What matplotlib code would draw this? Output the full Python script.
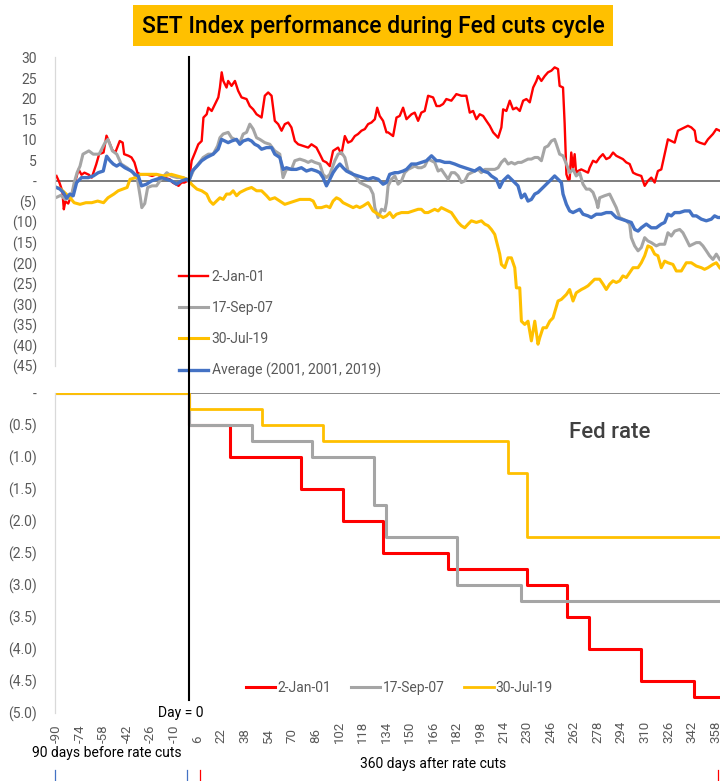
import matplotlib
matplotlib.use("Agg")
import matplotlib.pyplot as plt
from matplotlib.patches import Rectangle
from matplotlib.lines import Line2D
import matplotlib.transforms as mtransforms
import numpy as np

plt.rcParams['font.family'] = ['Roboto', 'DejaVu Sans']

# ---------------- text / labels ----------------
title = "SET Index performance during Fed cuts cycle"
series_labels = ["2-Jan-01", "17-Sep-07", "30-Jul-19"]
avg_label = "Average (2001, 2001, 2019)"
top_ytick_vals = list(range(-45, 31, 5))
top_ytick_labels = ["(45)", "(40)", "(35)", "(30)", "(25)", "(20)", "(15)", "(10)", "(5)",
                    "-", "5", "10", "15", "20", "25", "30"]
bot_ytick_vals = [-5.0, -4.5, -4.0, -3.5, -3.0, -2.5, -2.0, -1.5, -1.0, -0.5, 0.0]
bot_ytick_labels = ["(5.0)", "(4.5)", "(4.0)", "(3.5)", "(3.0)", "(2.5)", "(2.0)", "(1.5)",
                    "(1.0)", "(0.5)", "-"]
xtick_vals = list(range(-90, 361, 16))

# ---------------- SET index % change (day, value) ----------------
set_2001 = [(-90, 1.2), (-88, -0.4), (-86, -2.5), (-85, -6.9), (-84, -5.0), (-82, -5.5), (-80, -3.6),
            (-78, -1.2), (-75, 2.8), (-73, 1.5), (-71, 2.0), (-68, 1.5), (-66, 0.8), (-63, 4.0),
            (-61, 6.5), (-58, 6.9), (-56, 11.0), (-54, 9.3), (-52, 7.5), (-50, 6.9), (-47, 9.7),
            (-45, 9.3), (-44, 6.5), (-41, 6.1), (-39, 5.7), (-37, 4.5), (-35, 2.0), (-33, 1.6),
            (-29, 1.6), (-25, 1.2), (-22, 1.6), (-17, 0.8), (-13, 0.4), (-11, -0.4), (-7, -1.2),
            (-5, -0.4), (-3, -0.4), (-1, 0.0), (0, 0.0),
            (1.9, 4.9), (4.2, 6.9), (6.4, 8.9), (8.7, 9.7), (9.9, 15.4), (12.1, 16.2), (13.2, 17.8),
            (15.5, 17.0), (17.8, 18.7), (20.0, 20.3), (21.1, 22.7), (22.3, 26.4), (23.4, 24.3),
            (25.6, 22.7), (26.7, 24.3), (29.0, 23.1), (31.3, 24.3), (33.5, 21.9), (35.8, 20.3),
            (39.2, 19.9), (41.4, 18.2), (43.7, 17.4), (46.0, 16.2), (49.4, 15.4), (51.6, 20.7),
            (53.9, 21.5), (56.2, 20.7), (58.4, 14.6), (60.7, 13.8), (63.0, 12.2), (65.2, 13.8),
            (67.5, 14.2), (69.7, 13.0), (72.0, 9.7), (74.3, 8.9), (77.7, 8.5), (81.1, 8.1),
            (83.3, 8.9), (86.7, 8.1), (89.0, 6.5), (91.2, 4.9), (93.5, 4.5), (95.8, 3.6), (98.0, 7.3),
            (101.4, 8.1), (103.7, 6.5), (106.0, 10.9), (108.2, 9.3), (110.5, 9.7), (112.8, 10.9),
            (115.0, 11.4), (117.3, 12.2), (119.6, 12.6), (121.8, 13.8), (124.1, 14.2), (126.4, 15.0),
            (128.0, 17.8), (129.7, 15.8), (132.0, 14.6), (134.3, 11.8), (135.4, 11.8), (138.8, 10.9),
            (141.1, 15.4), (143.3, 15.8), (145.6, 17.8), (147.9, 15.0), (151.3, 16.2), (153.5, 16.6),
            (155.8, 14.6), (158.0, 16.6), (160.3, 17.0), (162.6, 20.7), (166.0, 20.3), (168.3, 18.2),
            (170.5, 18.2), (172.8, 18.7), (175.0, 19.9), (178.4, 19.5), (181.8, 21.1), (185.2, 20.7),
            (188.6, 20.7), (190.9, 16.6), (193.2, 17.0), (195.4, 15.0), (197.7, 16.2), (200.0, 15.8),
            (202.2, 14.6), (204.5, 13.4), (206.8, 11.8), (210.2, 10.5), (212.4, 13.0), (213.6, 17.4),
            (215.8, 17.0), (218.1, 19.5), (220.3, 17.4), (222.6, 17.8), (224.9, 17.0), (227.2, 19.5),
            (229.4, 19.9), (231.7, 19.1), (234.0, 22.7), (236.2, 24.3), (237.4, 25.5), (239.6, 24.3),
            (241.9, 25.5), (244.1, 26.4), (246.4, 26.8), (248.6, 27.6), (250.9, 27.2), (252.0, 23.1),
            (254.3, 22.7), (255.4, 14.0), (256.6, 1.6), (257.7, 0.4), (258.8, 0.4), (259.9, 6.9),
            (261.1, 3.2), (262.2, 6.5), (263.3, 1.6), (264.4, 2.4), (266.7, 2.8), (269.0, 2.4),
            (271.3, 2.0), (272.4, 3.2), (274.7, 4.9), (276.9, 4.5), (279.2, 5.7), (281.4, 6.5),
            (283.7, 5.3), (286.0, 5.7), (288.3, 6.9), (290.5, 6.1), (292.8, 5.7), (295.0, 5.3),
            (297.3, 4.5), (299.6, 4.1), (301.9, 2.0), (304.1, 1.6), (307.5, 1.2), (309.8, -1.2),
            (312.0, 0.0), (314.3, 0.8), (316.6, -0.4), (318.8, 2.4), (321.1, 2.8), (323.4, 6.5),
            (325.6, 10.1), (327.9, 9.7), (330.2, 9.3), (332.4, 12.2), (334.7, 12.6), (337.0, 13.0),
            (339.2, 13.4), (341.5, 13.0), (343.8, 12.2), (344.9, 9.7), (347.2, 9.3), (350.6, 8.9),
            (352.8, 10.1), (356.2, 11.4), (358.5, 12.6), (360.8, 12.2)]

set_2007 = [(-90, -4.0), (-87, -3.5), (-84, -4.5), (-80, -4.0), (-78, -0.5), (-76, 2.0), (-74, 3.6),
            (-72, 6.5), (-68, 7.3), (-65, 6.5), (-61, 6.5), (-57, 9.3), (-55, 10.1), (-52, 7.3),
            (-49, 6.5), (-46, 4.1), (-42, 3.2), (-38, 2.0), (-35, 0.4), (-33, -4.0), (-32, -6.5),
            (-30, -5.5), (-28, -1.6), (-25, -1.2), (-22, -1.2), (-19, 0.4), (-15, 2.0), (-12, 1.2),
            (-8, 0.8), (-4, 0.8), (0, 0.0),
            (3.4, 2.8), (6.4, 4.1), (9.7, 5.7), (13.2, 6.5), (16.5, 6.5), (19.5, 8.5), (21.1, 10.5),
            (23.3, 11.4), (26.7, 11.8), (29.0, 10.5), (31.3, 10.1), (34.6, 9.3), (36.9, 11.4),
            (39.2, 11.8), (41.4, 13.8), (43.7, 12.6), (46.0, 10.5), (48.2, 10.1), (51.6, 9.3),
            (55.0, 8.9), (58.4, 7.3), (61.8, 6.5), (64.0, 0.8), (66.3, 2.8), (69.7, 2.8), (72.0, 4.9),
            (75.4, 5.3), (78.8, 4.9), (81.1, 4.5), (83.3, 4.9), (85.6, 4.5), (89.0, 4.1), (91.2, 1.6),
            (93.5, 0.8), (95.8, 1.6), (99.2, 4.9), (101.4, 6.5), (103.7, 6.9), (106.0, 5.7),
            (108.2, 2.4), (110.5, 2.0), (113.9, 0.8), (116.2, -0.4), (118.4, -0.8), (120.7, -1.2),
            (123.0, -1.6), (125.2, -3.2), (126.4, -6.5), (128.6, -8.9), (130.9, -6.9), (133.2, -7.3),
            (134.3, -5.3), (135.4, -1.2), (137.7, 0.4), (140.0, 1.2), (142.2, -0.8), (144.5, 0.0),
            (146.7, 2.0), (149.0, 2.8), (151.3, 3.2), (153.5, 3.6), (155.8, 3.2), (158.0, 3.2),
            (160.3, 3.6), (162.6, 5.3), (164.9, 4.9), (167.1, 4.5), (169.4, 2.4), (171.6, 2.8),
            (173.9, 1.6), (176.2, 0.4), (178.4, 2.0), (180.7, 2.0), (183.0, 1.2), (185.2, -0.4),
            (187.5, 0.0), (189.8, 1.6), (192.0, 2.0), (194.3, 2.4), (196.6, 2.8), (198.8, 2.0),
            (201.1, 2.8), (203.4, 2.8), (205.6, 2.8), (207.9, 2.8), (210.2, 3.2), (212.4, 4.5),
            (214.7, 5.3), (217.0, 4.1), (219.2, 4.5), (221.5, 4.1), (223.7, 4.5), (226.0, 4.5),
            (228.3, 4.9), (230.5, 5.3), (232.8, 5.3), (235.1, 5.7), (237.3, 5.7), (239.6, 4.9),
            (241.9, 8.1), (244.1, 8.5), (246.4, 9.7), (248.6, 10.1), (249.8, 8.9), (252.0, 6.5),
            (254.3, 6.1), (256.6, 4.1), (258.8, 2.0), (261.1, 2.8), (263.3, 1.2), (265.6, 2.0),
            (267.9, -0.8), (270.1, -2.0), (272.4, -2.0), (274.7, -2.8), (276.9, -4.9), (278.0, -6.5),
            (279.2, -4.1), (282.6, -3.6), (286.0, -3.2), (288.3, -4.9), (290.5, -6.5), (292.8, -8.9),
            (295.0, -9.3), (297.3, -9.7), (299.6, -10.5), (300.7, -13.8), (303.0, -15.8),
            (305.3, -17.0), (307.5, -16.2), (309.8, -13.8), (312.0, -14.6), (314.3, -15.0),
            (317.7, -15.8), (320.0, -15.4), (323.4, -15.4), (325.6, -12.6), (327.9, -13.4),
            (330.2, -12.2), (333.6, -11.8), (335.8, -12.6), (338.1, -14.2), (340.3, -15.8),
            (342.6, -15.4), (344.9, -15.0), (347.2, -15.0), (349.4, -15.8), (351.7, -17.0),
            (353.9, -18.2), (356.2, -19.1), (358.5, -17.8), (360.8, -19.1)]

set_2019 = [(-90, -1.6), (-87, -2.0), (-84, -3.0), (-81, -4.0), (-78, -5.3), (-74, -5.7), (-70, -5.3),
            (-66, -5.3), (-62, -4.9), (-58, -5.3), (-55, -4.1), (-51, -3.2), (-48, -2.4), (-45, -2.0),
            (-42, -1.6), (-40, 0.4), (-36, 0.8), (-33, 1.6), (-28, 1.6), (-22, 1.6), (-17, 1.2),
            (-12, 1.6), (-8, 1.2), (-4, 0.8), (-1, 0.4), (0, 0.0),
            (2.3, -1.0), (5.5, -2.0), (8.7, -2.4), (12.1, -3.2), (14.3, -4.9), (16.5, -5.7),
            (18.8, -4.9), (21.1, -4.1), (23.3, -4.5), (25.6, -3.2), (27.9, -3.2), (30.1, -2.4),
            (32.4, -3.6), (34.7, -2.8), (36.9, -2.4), (39.2, -2.0), (42.6, -1.6), (46.0, -2.4),
            (49.4, -2.4), (52.8, -3.6), (55.0, -4.5), (58.4, -4.1), (61.8, -4.9), (65.2, -5.7),
            (68.6, -5.3), (72.0, -4.9), (75.4, -4.5), (78.8, -4.5), (82.2, -4.5), (84.5, -4.9),
            (86.7, -6.5), (90.1, -6.5), (93.5, -6.1), (95.8, -6.5), (98.0, -4.9), (100.3, -4.1),
            (102.6, -4.5), (104.8, -5.3), (107.1, -5.7), (109.4, -6.1), (111.6, -6.5), (113.9, -6.1),
            (116.2, -6.5), (118.4, -6.1), (121.8, -5.3), (125.2, -7.3), (128.6, -8.1), (132.0, -8.9),
            (134.3, -8.5), (136.5, -7.7), (138.8, -8.9), (141.1, -8.1), (144.5, -7.7), (149.0, -7.7),
            (152.4, -7.3), (155.8, -6.9), (158.0, -6.9), (160.3, -7.7), (162.6, -7.7), (164.9, -7.3),
            (167.1, -6.9), (169.4, -7.3), (171.6, -6.5), (173.9, -6.9), (176.2, -7.3), (178.4, -7.7),
            (180.7, -8.9), (183.0, -10.1), (185.2, -10.9), (187.5, -11.4), (189.8, -10.5),
            (192.0, -9.7), (195.4, -10.1), (198.8, -9.7), (201.1, -10.5), (203.4, -10.9),
            (205.6, -11.8), (207.9, -13.0), (210.2, -16.2), (211.3, -17.8), (212.4, -20.3),
            (214.7, -21.1), (216.9, -18.7), (219.2, -18.7), (221.5, -21.1), (222.6, -26.0),
            (224.9, -26.0), (226.0, -34.1), (228.3, -34.9), (230.5, -34.1), (232.8, -38.9),
            (235.1, -34.1), (237.3, -39.7), (238.5, -38.1), (240.7, -35.7), (243.0, -35.7),
            (245.3, -34.1), (247.5, -33.3), (250.9, -29.2), (253.2, -28.8), (256.6, -27.6),
            (258.8, -26.4), (261.1, -29.2), (263.3, -27.2), (266.8, -26.4), (269.0, -26.0),
            (271.3, -25.5), (273.5, -24.7), (275.8, -23.9), (279.2, -23.9), (281.5, -25.1),
            (283.7, -26.4), (286.0, -25.1), (288.3, -24.3), (290.5, -24.7), (292.8, -24.3),
            (295.0, -23.1), (297.3, -23.5), (299.6, -22.3), (301.9, -21.1), (305.3, -21.1),
            (307.5, -19.9), (309.8, -18.2), (312.0, -15.8), (314.3, -16.2), (316.6, -17.8),
            (318.8, -18.2), (321.1, -21.1), (323.4, -19.5), (325.6, -19.9), (329.0, -20.3),
            (331.3, -21.9), (334.7, -21.9), (338.1, -19.9), (341.5, -19.9), (344.9, -20.7),
            (348.3, -21.1), (350.5, -21.5), (352.8, -21.1), (356.2, -20.3), (358.5, -19.9),
            (360.8, -21.1)]

set_avg = [(-90, -1.6), (-87.6, -2.0), (-85.4, -2.8), (-83.1, -4.2), (-80.9, -3.2), (-78.6, -3.6),
           (-76.3, -0.4), (-73, 0.8), (-68.4, 0.8), (-65, 1.2), (-61.6, 2.0), (-58.2, 2.4),
           (-55.9, 6.0), (-53.6, 4.9), (-51.4, 4.1), (-49.1, 3.6), (-46.9, 4.1), (-43.5, 3.2),
           (-41.2, 2.8), (-39, 2.4), (-36.7, 1.6), (-34.4, 1.2), (-32.2, -1.2), (-28.8, -0.8),
           (-25.4, 0.0), (-22, 0.4), (-18.6, 0.8), (-15.2, 0.4), (-11.8, 0.0), (-8.4, -0.8),
           (-5, 0.0), (-1.6, 0.4), (0, 0.0),
           (2.3, 2.4), (5.5, 3.6), (8.7, 4.9), (12.0, 5.7), (16.5, 6.5), (19.9, 7.7), (22.2, 10.1),
           (24.5, 9.7), (26.7, 9.3), (29.0, 9.7), (32.4, 10.1), (34.6, 8.9), (36.9, 9.7),
           (40.3, 10.1), (42.6, 9.7), (44.8, 8.9), (47.1, 8.5), (49.4, 7.7), (52.8, 8.1), (56.2, 8.1),
           (58.4, 6.5), (61.8, 5.7), (64.1, 2.8), (66.3, 3.2), (69.7, 2.8), (73.1, 2.8), (76.5, 3.2),
           (79.9, 2.4), (83.3, 2.8), (86.7, 2.4), (89.0, 2.0), (91.2, 0.8), (93.5, -1.2), (95.8, 0.4),
           (98.0, 2.0), (100.3, 3.2), (102.6, 4.1), (104.8, 3.2), (107.1, 2.4), (109.4, 2.0),
           (111.6, 1.6), (115.0, 1.2), (118.4, 0.8), (121.8, 0.4), (125.2, 0.8), (128.6, 0.4),
           (132.0, -0.8), (134.3, -0.4), (136.5, 1.6), (140.0, 2.0), (142.2, 2.0), (145.6, 2.4),
           (147.9, 2.8), (151.3, 4.1), (154.7, 4.1), (158.0, 4.5), (161.5, 4.9), (164.9, 6.1),
           (168.3, 4.9), (170.5, 4.9), (173.9, 4.5), (177.3, 4.5), (180.7, 4.1), (184.1, 3.6),
           (187.5, 3.2), (190.9, 2.8), (194.3, 2.4), (197.7, 3.2), (200.0, 2.4), (203.4, 2.0),
           (205.6, 1.2), (209.0, 0.4), (211.3, -1.6), (213.5, 0.0), (216.9, 1.2), (219.2, 0.4),
           (221.5, -0.4), (223.7, -1.2), (226.0, -4.1), (228.3, -3.2), (230.5, -4.9), (232.8, -4.5),
           (235.1, -3.2), (237.3, -2.8), (239.6, -2.0), (241.9, -1.2), (244.1, -0.4), (246.4, 0.4),
           (248.6, 1.2), (250.9, 0.4), (253.2, -0.4), (254.3, -3.2), (256.6, -5.7), (258.8, -7.3),
           (261.1, -7.7), (263.3, -7.3), (265.6, -6.9), (267.9, -8.1), (271.3, -8.5), (273.5, -8.9),
           (276.9, -8.1), (280.3, -8.1), (283.7, -7.7), (287.1, -7.7), (290.5, -8.9), (293.9, -9.3),
           (297.3, -9.7), (300.7, -10.1), (303.0, -11.8), (305.3, -12.2), (307.5, -11.4),
           (310.9, -10.5), (314.3, -11.4), (317.7, -11.4), (321.1, -10.5), (323.4, -10.1),
           (325.6, -8.1), (327.9, -8.5), (330.2, -7.7), (333.6, -7.7), (337.0, -7.3), (340.3, -7.3),
           (342.6, -8.5), (344.9, -8.5), (348.3, -9.3), (351.7, -9.7), (355.1, -9.3), (357.3, -8.5),
           (359.6, -8.9), (360.8, -8.9)]

# ---------------- Fed funds rate cumulative change (step data) ----------------
fed_2001_days = [-90, 0, 28, 76, 105, 132, 176, 230, 257, 272, 307, 343, 361]
fed_2001_chg = [0.0, -0.5, -1.0, -1.5, -2.0, -2.5, -2.75, -3.0, -3.5, -4.0, -4.5, -4.75, -4.75]
fed_2007_days = [-90, 0, 43, 84, 126, 134, 182, 226, 361]
fed_2007_chg = [0.0, -0.5, -0.75, -1.0, -1.75, -2.25, -3.0, -3.25, -3.25]
fed_2019_days = [-90, 0, 50, 91, 217, 230, 361]
fed_2019_chg = [0.0, -0.25, -0.5, -0.75, -1.25, -2.25, -2.25]

# ---------------- styling ----------------
colors = ["#FF0000", "#A5A5A5", "#FFC000"]
avg_color = "#4472C4"
tick_color = "#595959"

W, H = 720, 781
fig = plt.figure(figsize=(W / 100, H / 100), dpi=100)


def fx(px):
    return px / W


def fy(py):
    return 1 - py / H


ax1 = fig.add_axes([fx(55), fy(366), fx(720) - fx(55), fy(57.5) - fy(366)])
ax2 = fig.add_axes([fx(55), fy(713), fx(720) - fx(55), fy(393) - fy(713)])

for ax in (ax1, ax2):
    ax.set_xlim(-91, 361)
    for s in ("top", "right", "bottom"):
        ax.spines[s].set_visible(False)
    ax.spines["left"].set_color("#D9D9D9")
    ax.spines["left"].set_linewidth(0.9)
    ax.tick_params(axis="both", length=0, labelsize=10, labelcolor=tick_color)
    ax.patch.set_alpha(0)

# ---- top chart ----
ax1.set_ylim(-45, 30)
ax1.set_yticks(top_ytick_vals)
ax1.set_yticklabels(top_ytick_labels)
ax1.tick_params(axis="y", pad=13)
ax1.set_xticks([])
ax1.axhline(0, color="#595959", lw=1.1, zorder=1)

handles = []
for data, c, lw, lab in [(set_2001, colors[0], 1.7, series_labels[0]),
                         (set_2007, colors[1], 2.2, series_labels[1]),
                         (set_2019, colors[2], 2.2, series_labels[2]),
                         (set_avg, avg_color, 2.4, avg_label)]:
    d, v = zip(*data)
    ln, = ax1.plot(d, v, color=c, lw=lw, label=lab, zorder=2, solid_joinstyle="round")
    handles.append(ln)

ax1.legend(handles=handles, loc="upper left", bbox_to_anchor=((179 - 55) / 665, (366 - 270) / 308.5),
           frameon=False, fontsize=10, labelcolor=tick_color, handlelength=2.1,
           handletextpad=0.25, labelspacing=1.22, borderpad=0, borderaxespad=0)

# ---- bottom chart ----
ax2.set_ylim(-5, 0)
ax2.set_yticks(bot_ytick_vals)
ax2.set_yticklabels(bot_ytick_labels)
ax2.tick_params(axis="y", pad=13)
ax2.set_xticks(xtick_vals)
ax2.set_xticklabels([])
ax2.axhline(0, color="#767676", lw=1.2, zorder=1)

h2 = []
for dd, vv, c, lw, lab in [(fed_2001_days, fed_2001_chg, colors[0], 2.2, series_labels[0]),
                           (fed_2007_days, fed_2007_chg, colors[1], 2.2, series_labels[1]),
                           (fed_2019_days, fed_2019_chg, colors[2], 2.0, series_labels[2])]:
    ln, = ax2.step(dd, vv, where="post", color=c, lw=lw, label=lab, zorder=2)
    h2.append(ln)

ax2.legend(handles=h2, loc="center left", bbox_to_anchor=((246 - 55) / 665, (713 - 688) / 320),
           ncol=3, frameon=False, fontsize=10, labelcolor=tick_color, handlelength=2.1,
           handletextpad=0.15, columnspacing=1.45, borderpad=0, borderaxespad=0)

# x tick labels (rotated, bottom-aligned)
tr_x = mtransforms.blended_transform_factory(ax2.transData, fig.transFigure)
for t in xtick_vals:
    fig.text(0, 0, str(t), transform=tr_x, fontsize=9.5, color=tick_color, rotation=90,
             ha="center", va="bottom").set_position((t, fy(743)))

# vertical day-0 line across both panels
tr_v = mtransforms.blended_transform_factory(ax1.transData, fig.transFigure)
fig.add_artist(Line2D([0, 0], [fy(57), fy(700)], transform=tr_v, color="black", lw=1.5, zorder=5))

# title box
fig.add_artist(Rectangle((fx(133), fy(46)), fx(613) - fx(133), (46 - 5) / H,
                         transform=fig.transFigure, facecolor="#FFC000", edgecolor="none"))
fig.text(fx(373), fy(26), title, ha="center", va="center", fontsize=16.5, fontweight="medium",
         color="black")

fig.text(fx(569), fy(432), "Fed rate", ha="left", va="center", fontsize=16, fontweight="medium",
         color="#404040")
fig.text(fx(181), fy(713), "Day = 0", ha="center", va="center", fontsize=10, color="black")
fig.text(fx(107), fy(753), "90 days before rate cuts", ha="center", va="center", fontsize=10,
         color="black")
fig.text(fx(433), fy(764), "360 days after rate cuts", ha="center", va="center", fontsize=10,
         color="black")

# small bracket marks at the bottom edge
for xp, c in [(55, avg_color), (187, avg_color), (200, colors[0]), (718, colors[0])]:
    fig.add_artist(Line2D([fx(xp), fx(xp)], [fy(770), fy(781)], transform=fig.transFigure,
                          color=c, lw=0.9))

fig.savefig("out.png", dpi=100)
